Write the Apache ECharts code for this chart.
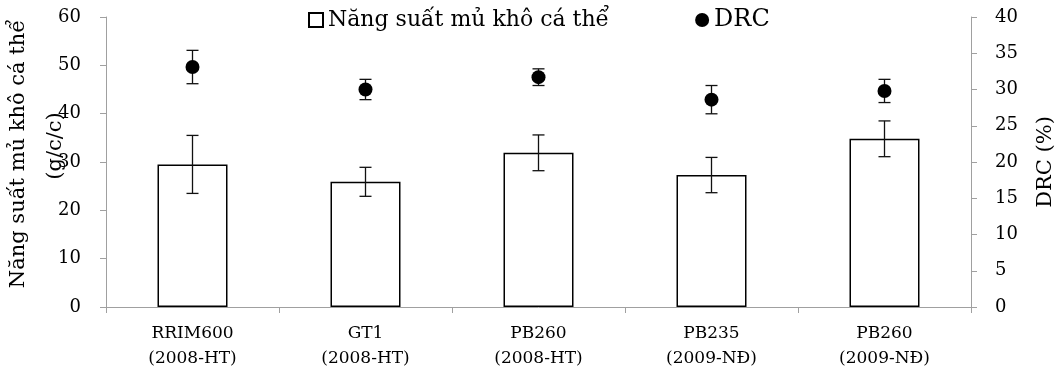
<!DOCTYPE html>
<html>
<head>
<meta charset="utf-8">
<script src="https://cdn.jsdelivr.net/npm/echarts@6/dist/echarts.min.js"></script>
<style>html,body{margin:0;padding:0;background:#fff;}#c{width:1063px;height:371px;}</style>
</head>
<body>
<div id="c"></div>
<script>
const categories = ['RRIM600\n(2008-HT)', 'GT1\n(2008-HT)', 'PB260\n(2008-HT)', 'PB235\n(2009-NĐ)', 'PB260\n(2009-NĐ)'];
const yieldValues = [29.5, 25.9, 31.9, 27.3, 34.8];
const yieldErrors = [6.0, 3.0, 3.7, 3.65, 3.7];
const drcValues = [33.1, 30.0, 31.7, 28.6, 29.8];
const drcErrors = [2.3, 1.4, 1.15, 1.95, 1.6];
const leftTicks = [0, 60, 10];
const rightTicks = [0, 40, 5];

const FONT = 'DejaVu Serif';
const AXIS_COLOR = '#a0a0a0';

function errData(vals, errs) { return vals.map((v, i) => [i, v, errs[i]]); }
function errRender(params, api) {
  const i = api.value(0), v = api.value(1), e = api.value(2);
  const top = api.coord([i, v + e]);
  const bot = api.coord([i, v - e]);
  const hw = 6;
  const style = { stroke: '#111', lineWidth: 1.3 };
  return {
    type: 'group',
    children: [
      { type: 'line', shape: { x1: top[0], y1: top[1], x2: bot[0], y2: bot[1] }, style },
      { type: 'line', shape: { x1: top[0] - hw, y1: top[1], x2: top[0] + hw, y2: top[1] }, style },
      { type: 'line', shape: { x1: bot[0] - hw, y1: bot[1], x2: bot[0] + hw, y2: bot[1] }, style }
    ]
  };
}

const chart = echarts.init(document.getElementById('c'), null, { renderer: 'canvas' });
chart.setOption({
  animation: false,
  backgroundColor: '#fff',
  textStyle: { fontFamily: FONT, color: '#000' },
  grid: { left: 106, right: 92, top: 17, bottom: 64, containLabel: false, outerBoundsMode: 'none' },
  legend: {
    left: 308, top: 8, padding: 0,
    itemGap: 86, itemWidth: 14, itemHeight: 14,
    textStyle: {
      fontFamily: FONT, fontSize: 22, color: '#000',
      rich: { d: { fontFamily: FONT, fontSize: 24, color: '#000' } }
    },
    formatter: function (n) { return n === 'DRC' ? '{d|DRC}' : n; },
    data: [
      { name: 'Năng suất mủ khô cá thể', icon: 'rect' },
      { name: 'DRC', icon: 'circle' }
    ]
  },
  xAxis: {
    type: 'category',
    data: categories,
    boundaryGap: true,
    axisLine: { lineStyle: { color: AXIS_COLOR, width: 1 } },
    axisTick: { show: true, alignWithLabel: false, length: 6, lineStyle: { color: AXIS_COLOR } },
    axisLabel: { fontFamily: FONT, fontSize: 17, color: '#000', margin: 14, lineHeight: 25 }
  },
  yAxis: [
    {
      type: 'value', min: leftTicks[0], max: leftTicks[1], interval: leftTicks[2],
      name: '{a|Năng suất mủ khô cá thể}\n{b|(g/c/c)}',
      nameLocation: 'middle', nameRotate: 90, nameGap: 32, nameMoveOverlap: false,
      nameTextStyle: {
        fontFamily: FONT, fontSize: 21, color: '#000', lineHeight: 37,
        rich: {
          a: { fontFamily: FONT, fontSize: 21, color: '#000', lineHeight: 37, padding: [0, 0, 0, 16] },
          b: { fontFamily: FONT, fontSize: 21, color: '#000', lineHeight: 37, padding: [0, 0, 0, 32] }
        }
      },
      axisLine: { show: true, lineStyle: { color: AXIS_COLOR } },
      axisTick: { show: true, length: 6, lineStyle: { color: AXIS_COLOR } },
      axisLabel: { fontFamily: FONT, fontSize: 18, color: '#000', margin: 25 },
      splitLine: { show: false }
    },
    {
      type: 'value', min: rightTicks[0], max: rightTicks[1], interval: rightTicks[2],
      position: 'right',
      name: 'DRC (%)',
      nameLocation: 'middle', nameRotate: 90, nameGap: 64, nameMoveOverlap: false,
      nameTextStyle: { fontFamily: FONT, fontSize: 21, color: '#000' },
      axisLine: { show: true, lineStyle: { color: AXIS_COLOR } },
      axisTick: { show: true, length: 6, lineStyle: { color: AXIS_COLOR } },
      axisLabel: { fontFamily: FONT, fontSize: 18, color: '#000', margin: 24 },
      splitLine: { show: false }
    }
  ],
  series: [
    {
      name: 'Năng suất mủ khô cá thể',
      type: 'bar',
      data: yieldValues,
      barWidth: 70,
      itemStyle: { color: '#fff', borderColor: '#000', borderWidth: 1.5 },
      z: 2
    },
    {
      name: 'yieldErr', type: 'custom', renderItem: errRender,
      data: errData(yieldValues, yieldErrors), z: 3, silent: true,
      encode: { x: 0, y: 1 }
    },
    {
      name: 'DRC', type: 'scatter', yAxisIndex: 1,
      data: drcValues, symbol: 'circle', symbolSize: 14,
      itemStyle: { color: '#000', opacity: 1 }, z: 5
    },
    {
      name: 'drcErr', type: 'custom', yAxisIndex: 1, renderItem: errRender,
      data: errData(drcValues, drcErrors), z: 4, silent: true,
      encode: { x: 0, y: 1 }
    }
  ]
});
</script>
</body>
</html>
